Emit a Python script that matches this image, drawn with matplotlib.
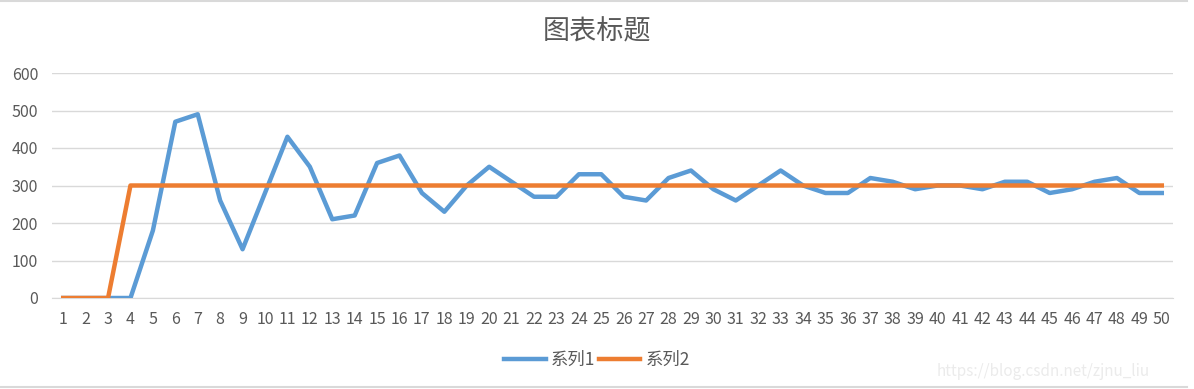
import numpy as np
import matplotlib.pyplot as plt
from matplotlib.lines import Line2D

plt.rcParams['font.family'] = ['Noto Sans CJK SC', 'DejaVu Sans']

x = np.arange(1, 51)
s1 = [0, 0, 0, 0, 180, 470, 490, 260, 130, 280,
      430, 350, 210, 220, 360, 380, 280, 230, 300, 350,
      310, 270, 270, 330, 330, 270, 260, 320, 340, 290,
      260, 300, 340, 300, 280, 280, 320, 310, 290, 300,
      300, 290, 310, 310, 280, 290, 310, 320, 280, 280]
s2 = [0, 0, 0] + [300] * 47
names = ['系列1', '系列2']
title = '图表标题'

txt = '#595959'
fig = plt.figure(figsize=(11.94, 3.89), dpi=100)
ax = fig.add_axes([52 / 1194, 1 - 298 / 389, (1173 - 52) / 1194, (298 - 73) / 389])

ax.plot(x, s1, color='#5B9BD5', lw=3.2, label=names[0], solid_joinstyle='round', zorder=3)
ax.plot(x, s2, color='#ED7D31', lw=3.2, label=names[1], solid_joinstyle='round', zorder=4)

ax.set_xlim(0.5, 50.5)
ax.set_ylim(0, 600)
ax.set_xticks(x)
ax.set_yticks(range(0, 601, 100))
ax.tick_params(length=0, labelsize=11.5, labelcolor=txt)
ax.tick_params(axis='x', pad=9)
ax.tick_params(axis='y', pad=10)
ax.grid(axis='y', color='#D9D9D9', lw=1)
ax.set_axisbelow(True)
for sp in ['top', 'right', 'left']:
    ax.spines[sp].set_visible(False)
ax.spines['bottom'].set_color('#D9D9D9')

fig.text(0.5, 1 - 32 / 389, title, ha='center', va='center', fontsize=19.5, color=txt)

fig.legend(loc='center', bbox_to_anchor=(0.5, 1 - 360 / 389), ncol=2, frameon=False,
           fontsize=12.5, labelcolor=txt, handlelength=2.4, handletextpad=0.3,
           columnspacing=0.2)

fig.text(1150 / 1194, 1 - 371 / 389, 'https://blog.csdn.net/zjnu_liu', ha='right',
         va='center', fontsize=11, color='#EBEBEB')

fig.add_artist(Line2D([0, 1187 / 1194], [1 - 0.5 / 389] * 2, color='#D9D9D9', lw=1.5))
fig.add_artist(Line2D([0, 1187 / 1194], [1 - 387 / 389] * 2, color='#D9D9D9', lw=1.5))

fig.savefig('out.png', dpi=100)
